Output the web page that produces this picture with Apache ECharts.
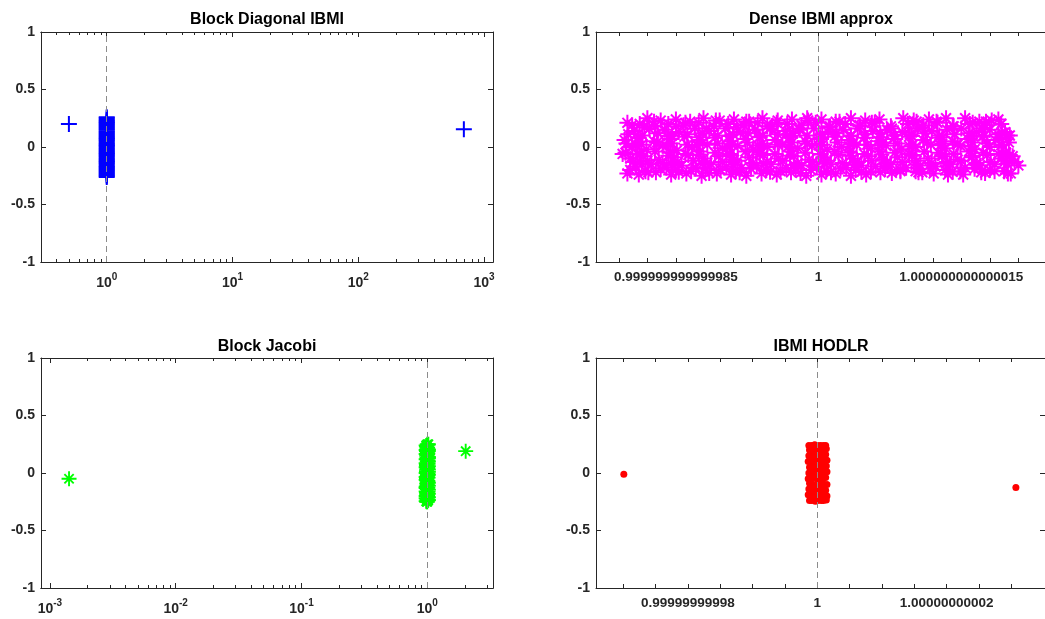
<!DOCTYPE html>
<html>
<head>
<meta charset="UTF-8">
<title>IBMI eigenvalues</title>
<script src="https://cdn.jsdelivr.net/npm/echarts@6/dist/echarts.min.js"></script>
<style>html,body{margin:0;padding:0;background:#fff;}</style>
</head>
<body>
<div id="main" style="width:1045px;height:619px;"></div>
<script>
// ---- data (real part, imaginary part) ----
// Block Diagonal IBMI
var diagCluster = [[1,-0.26],[1,-0.251],[1,-0.242],[1,-0.231],[1,-0.222],[1,-0.211],[1,-0.203],[1,-0.192],[1,-0.181],
  [1,-0.172],[1,-0.162],[1,-0.151],[1,-0.142],[1,-0.131],[1,-0.122],[1,-0.111],[1,-0.102],[1,-0.091],[1,-0.081],
  [1,-0.072],[1,-0.061],[1,-0.052],[1,-0.041],[1,-0.032],[1,-0.021],[1,-0.012],[1,-0.002],[1,0.008],[1,0.018],
  [1,0.029],[1,0.038],[1,0.049],[1,0.058],[1,0.069],[1,0.078],[1,0.089],[1,0.098],[1,0.109],[1,0.118],[1,0.129],
  [1,0.138],[1,0.149],[1,0.158],[1,0.169],[1,0.178],[1,0.189],[1,0.198],[1,0.209],[1,0.218],[1,0.229],[1,0.238],
  [1,0.249],[1,0.258]];
var diagOutliers = [[0.5,0.2],[692,0.155]];
var diagTicks = [1, 10, 100, 1000];
var diagMinor = [0.4,0.5,0.6,0.7,0.8,0.9,2,3,4,5,6,7,8,9,20,30,40,50,60,70,80,90,200,300,400,500,600,700,800,900];

// Dense IBMI approx: real part stored as (re - 1) in units of 1e-15
var denseEig = [
  [-20.1,0.21],[-18.0,0.25],[-16.6,0.23],[-15.0,0.24],[-13.5,0.22],[-12.1,0.25],[-10.4,0.23],[-8.9,0.24],[-7.3,0.22],
  [-5.9,0.25],[-4.3,0.23],[-2.8,0.24],[-1.2,0.25],[0.3,0.24],[1.8,0.22],[3.4,0.25],[4.9,0.23],[6.4,0.24],[8.9,0.25],
  [10.3,0.22],[11.6,0.24],[13.4,0.25],[15.4,0.25],[16.9,0.22],[18.2,0.23],[18.9,0.24],
  [-19.6,0.19],[-18.8,0.2],[-17.2,0.18],[-15.8,0.2],[-14.2,0.19],[-12.6,0.21],[-11.0,0.18],[-9.5,0.2],[-7.9,0.19],
  [-6.4,0.21],[-4.9,0.18],[-3.3,0.2],[-1.8,0.19],[-0.3,0.21],[1.2,0.18],[2.8,0.2],[4.3,0.19],[5.9,0.21],[7.6,0.18],
  [9.4,0.2],[11.0,0.19],[12.5,0.21],[14.2,0.18],[15.9,0.2],[17.5,0.19],[19.2,0.2],
  [-19.4,0.14],[-17.8,0.16],[-16.2,0.15],[-14.7,0.13],[-13.0,0.16],[-11.5,0.14],[-9.8,0.16],[-8.2,0.13],[-6.7,0.15],
  [-5.1,0.16],[-3.5,0.14],[-2.0,0.15],[-0.5,0.16],[1.0,0.13],[2.6,0.15],[4.1,0.16],[5.7,0.14],[7.2,0.15],[8.8,0.13],
  [10.4,0.16],[11.9,0.14],[13.5,0.15],[15.0,0.16],[16.6,0.13],[18.0,0.15],[19.3,0.12],[19.8,0.10],
  [-20.0,0.11],[-18.5,0.1],[-16.9,0.12],[-15.4,0.1],[-13.8,0.11],[-12.2,0.12],[-10.6,0.1],[-9.0,0.11],[-7.4,0.12],
  [-5.9,0.1],[-4.3,0.11],[-2.7,0.12],[-1.2,0.1],[0.4,0.11],[1.9,0.12],[3.4,0.1],[4.9,0.11],[6.5,0.12],[8.0,0.1],
  [9.6,0.11],[11.2,0.12],[12.7,0.1],[14.3,0.11],[15.8,0.12],[17.4,0.1],[18.9,0.11],[19.6,0.13],
  [-20.4,0.06],[-18.9,0.08],[-17.3,0.05],[-15.6,0.07],[-14.1,0.09],[-12.5,0.06],[-10.9,0.08],[-9.3,0.05],[-7.7,0.07],
  [-6.2,0.09],[-4.6,0.06],[-3.0,0.08],[-1.4,0.05],[0.1,0.07],[1.7,0.09],[3.2,0.06],[4.8,0.08],[6.3,0.05],[7.9,0.07],
  [9.5,0.09],[11.0,0.06],[12.6,0.08],[14.1,0.05],[15.7,0.07],[17.2,0.09],[18.6,0.06],[20.1,0.10],
  [-20.2,0.03],[-18.6,0.02],[-17.0,0.04],[-15.4,0.03],[-13.8,0.02],[-12.2,0.04],[-10.6,0.03],[-9.1,0.02],[-7.5,0.04],
  [-5.9,0.03],[-4.3,0.02],[-2.8,0.04],[-1.2,0.03],[0.4,0.02],[2.0,0.04],[3.6,0.03],[5.1,0.02],[6.7,0.04],[8.3,0.03],
  [9.9,0.02],[11.4,0.04],[13.0,0.03],[14.6,0.02],[16.2,0.04],[17.7,0.03],[19.3,0.02],[20.0,0.04],
  [-20.6,-0.06],[-19.6,0.0],[-18.1,-0.02],[-16.4,0.01],[-14.9,-0.03],[-13.3,0.0],[-11.7,0.02],[-10.1,-0.01],[-8.5,0.01],
  [-6.9,-0.02],[-5.4,0.0],[-3.8,0.02],[-2.2,-0.01],[-0.7,0.01],[0.9,-0.02],[2.4,0.0],[4.0,0.02],[5.5,-0.01],[7.1,0.01],
  [8.7,-0.02],[10.2,0.0],[11.8,0.02],[13.3,-0.01],[14.9,0.01],[16.4,-0.02],[18.0,0.0],[19.7,-0.05],
  [-20.3,-0.05],[-18.8,-0.06],[-17.2,-0.04],[-15.6,-0.05],[-14.0,-0.06],[-12.5,-0.04],[-10.9,-0.05],[-9.3,-0.06],
  [-7.7,-0.04],[-6.2,-0.05],[-4.6,-0.06],[-3.0,-0.04],[-1.4,-0.05],[0.2,-0.06],[1.7,-0.04],[3.3,-0.05],[4.8,-0.06],
  [6.4,-0.04],[8.0,-0.05],[9.5,-0.06],[11.1,-0.04],[12.6,-0.05],[14.2,-0.06],[15.8,-0.04],[17.3,-0.05],[18.9,-0.06],[20.4,-0.08],
  [-19.8,-0.10],[-18.4,-0.08],[-16.8,-0.11],[-15.2,-0.09],[-13.7,-0.07],[-12.1,-0.10],[-10.5,-0.08],[-8.9,-0.11],
  [-7.3,-0.09],[-5.8,-0.07],[-4.2,-0.10],[-2.6,-0.08],[-1.0,-0.11],[0.5,-0.09],[2.1,-0.07],[3.6,-0.10],[5.2,-0.08],
  [6.8,-0.11],[8.3,-0.09],[9.9,-0.07],[11.5,-0.10],[13.0,-0.08],[14.6,-0.11],[16.1,-0.09],[17.7,-0.07],[19.2,-0.10],[20.1,-0.07],
  [-19.5,-0.13],[-18.0,-0.12],[-16.4,-0.14],[-14.8,-0.13],[-13.2,-0.12],[-11.7,-0.14],[-10.1,-0.13],[-8.5,-0.12],
  [-6.9,-0.14],[-5.4,-0.13],[-3.8,-0.12],[-2.2,-0.14],[-0.6,-0.13],[0.9,-0.12],[2.5,-0.14],[4.1,-0.13],[5.6,-0.12],
  [7.2,-0.14],[8.8,-0.13],[10.3,-0.12],[11.9,-0.14],[13.5,-0.13],[15.0,-0.12],[16.6,-0.14],[18.1,-0.13],[19.6,-0.12],[20.6,-0.13],
  [-19.2,-0.17],[-17.6,-0.15],[-16.0,-0.18],[-14.4,-0.16],[-12.9,-0.18],[-11.3,-0.15],[-9.7,-0.17],[-8.1,-0.18],[-6.5,-0.16],
  [-5.0,-0.15],[-3.4,-0.18],[-1.8,-0.16],[-0.2,-0.17],[1.3,-0.15],[2.9,-0.18],[4.5,-0.16],[6.0,-0.17],[7.6,-0.15],[9.2,-0.18],
  [10.7,-0.16],[12.3,-0.17],[13.9,-0.15],[15.4,-0.18],[17.0,-0.16],[18.5,-0.15],[21.0,-0.16],
  [-19.8,-0.2],[-18.2,-0.21],[-16.6,-0.19],[-15.0,-0.2],[-13.4,-0.21],[-11.9,-0.19],[-10.3,-0.2],[-8.7,-0.21],[-7.1,-0.19],
  [-5.5,-0.2],[-4.0,-0.21],[-2.4,-0.19],[-0.8,-0.2],[0.8,-0.21],[2.3,-0.19],[3.9,-0.2],[5.5,-0.21],[7.0,-0.19],[8.6,-0.2],
  [10.2,-0.21],[11.7,-0.19],[13.3,-0.2],[14.9,-0.21],[16.4,-0.19],[18.0,-0.2],[19.5,-0.21],
  [-20.1,-0.23],[-18.9,-0.24],[-17.1,-0.22],[-15.5,-0.24],[-13.9,-0.23],[-12.3,-0.25],[-10.7,-0.23],[-9.2,-0.24],[-7.6,-0.25],
  [-6.0,-0.23],[-4.4,-0.24],[-2.9,-0.22],[-1.3,-0.25],[0.3,-0.24],[1.8,-0.23],[3.4,-0.25],[5.0,-0.24],[6.5,-0.22],[8.6,-0.21],
  [10.5,-0.22],[12.1,-0.23],[13.6,-0.24],[15.2,-0.24],[17.1,-0.22],[18.5,-0.21],[19.9,-0.23],[20.2,-0.23],
  [-17.3,0.22],[-14.0,0.21],[-10.8,0.23],[-7.6,0.22],[-4.4,0.21],[-1.1,0.23],[2.2,0.22],[5.6,0.21],[10.0,0.23],[12.4,0.22],
  [16.2,0.21],[17.6,0.22],
  [-18.3,0.17],[-15.0,0.18],[-11.8,0.16],[-8.6,0.17],[-5.4,0.18],[-2.1,0.16],[1.1,0.17],[4.4,0.18],[7.7,0.16],[10.9,0.17],
  [14.1,0.18],[17.2,0.16],
  [-19.0,0.085],[-15.8,0.095],[-12.6,0.085],[-9.4,0.095],[-6.2,0.085],[-3.0,0.095],[0.2,0.085],[3.4,0.095],[6.6,0.085],
  [9.8,0.095],[13.0,0.085],[16.2,0.095],[19.0,0.085],
  [-19.2,0.015],[-16.0,0.005],[-12.8,0.015],[-9.6,0.005],[-6.4,0.015],[-3.2,0.005],[0.0,0.015],[3.2,0.005],[6.4,0.015],
  [9.6,0.005],[12.8,0.015],[16.0,0.005],[19.2,0.015],
  [-19.0,-0.065],[-15.8,-0.075],[-12.6,-0.065],[-9.4,-0.075],[-6.2,-0.065],[-3.0,-0.075],[0.2,-0.065],[3.4,-0.075],
  [6.6,-0.065],[9.8,-0.075],[13.0,-0.065],[16.2,-0.075],[19.4,-0.065],
  [-18.6,-0.145],[-15.4,-0.155],[-12.2,-0.145],[-9.0,-0.155],[-5.8,-0.145],[-2.6,-0.155],[0.6,-0.145],[3.8,-0.155],
  [7.0,-0.145],[10.2,-0.155],[13.4,-0.145],[16.6,-0.155],[19.8,-0.145],
  [-17.9,-0.22],[-14.7,-0.215],[-11.5,-0.225],[-8.3,-0.22],[-5.1,-0.215],[-1.9,-0.225],[1.3,-0.22],[4.5,-0.215],
  [7.7,-0.225],[10.9,-0.22],[14.1,-0.215],[17.5,-0.225]
];
var denseTicks = [-21,-18,-15,-12,-9,-6,-3,0,3,6,9,12,15,18,21];
var denseLabelValues = [-15, 0, 15];
var denseLabels = ['0.999999999999985', '1', '1.000000000000015'];

// Block Jacobi
var jacobiCluster = [[0.99,-0.25],[1.01,-0.24],[0.98,-0.22],[1.02,-0.21],[1.0,-0.19],[0.985,-0.17],[1.015,-0.16],[1.0,-0.14],
  [0.98,-0.12],[1.02,-0.11],[0.99,-0.09],[1.01,-0.07],[0.985,-0.05],[1.015,-0.04],[1.0,-0.02],[0.98,0.0],[1.02,0.01],
  [0.99,0.03],[1.01,0.05],[0.985,0.07],[1.015,0.08],[1.0,0.1],[0.98,0.12],[1.02,0.13],[0.99,0.15],[1.01,0.17],[0.985,0.19],
  [1.015,0.2],[1.0,0.22],[0.98,0.24],[1.02,0.25],[1.0,-0.25],[1.0,0.25],
  [1.02,-0.235],[0.98,-0.2],[1.005,-0.175],[1.02,-0.145],[0.98,-0.13],[1.0,-0.1],[1.02,-0.085],[0.98,-0.06],[1.0,-0.03],
  [1.02,-0.015],[0.985,0.015],[1.0,0.04],[1.02,0.06],[0.98,0.085],[1.01,0.11],[1.02,0.14],[0.98,0.165],[1.0,0.18],
  [1.02,0.205],[0.985,0.23],[1.01,0.245],[0.98,-0.245],[0.98,-0.16],[0.98,-0.035],[0.98,0.05],[0.98,0.2],[1.02,-0.18],
  [1.02,0.03],[1.02,0.1],[1.02,0.19],
  [0.995,-0.23],[1.005,-0.2],[0.995,-0.17],[1.005,-0.14],[0.995,-0.11],[1.005,-0.08],[0.995,-0.05],[1.005,-0.02],
  [0.995,0.01],[1.005,0.04],[0.995,0.07],[1.005,0.1],[0.995,0.13],[1.005,0.16],[0.995,0.19],[1.005,0.22],
  [1.01,-0.215],[0.99,-0.185],[1.01,-0.125],[0.99,-0.065],[1.01,-0.005],[0.99,0.055],[1.01,0.125],[0.99,0.205]];
var jacobiOutliers = [[0.00142,-0.05],[2.02,0.19]];
var jacobiTicks = [0.001, 0.01, 0.1, 1];
var jacobiMinor = [0.002,0.003,0.004,0.005,0.006,0.007,0.008,0.009,0.02,0.03,0.04,0.05,0.06,0.07,0.08,0.09,
  0.2,0.3,0.4,0.5,0.6,0.7,0.8,0.9,2,3];

// IBMI HODLR: real part stored as (re - 1) in units of 1e-11
var hodlrCluster = [[-0.12,-0.24],[-0.03,-0.245],[0.06,-0.24],[0.14,-0.235],[-0.14,-0.19],[-0.04,-0.2],[0.05,-0.19],[0.15,-0.2],
  [-0.13,-0.14],[-0.05,-0.15],[0.04,-0.14],[0.13,-0.15],[-0.12,-0.09],[-0.03,-0.1],[0.06,-0.09],[0.15,-0.1],
  [-0.14,-0.05],[-0.04,-0.04],[0.05,-0.05],[0.13,-0.04],[-0.13,0.0],[-0.05,0.01],[0.04,0.0],[0.15,0.01],
  [-0.12,0.05],[-0.03,0.06],[0.06,0.05],[0.14,0.06],[-0.14,0.1],[-0.04,0.11],[0.05,0.1],[0.15,0.11],
  [-0.13,0.15],[-0.05,0.16],[0.04,0.15],[0.13,0.16],[-0.12,0.2],[-0.03,0.21],[0.06,0.2],[0.14,0.21],
  [-0.13,0.24],[-0.04,0.245],[0.05,0.24],[0.13,0.24],
  [-0.085,-0.24],[0.005,-0.24],[0.095,-0.24],[-0.085,-0.19],[0.005,-0.19],[0.095,-0.19],[-0.085,-0.145],[0.005,-0.145],
  [0.095,-0.145],[-0.085,-0.095],[0.005,-0.095],[0.095,-0.095],[-0.085,-0.045],[0.005,-0.045],[0.095,-0.045],
  [-0.085,0.005],[0.005,0.005],[0.095,0.005],[-0.085,0.055],[0.005,0.055],[0.095,0.055],[-0.085,0.105],[0.005,0.105],
  [0.095,0.105],[-0.085,0.155],[0.005,0.155],[0.095,0.155],[-0.085,0.205],[0.005,0.205],[0.095,0.205],[-0.085,0.24],
  [0.005,0.24],[0.095,0.24]];
var hodlrOutliers = [[-2.99,-0.01],[3.07,-0.125]];
var hodlrTicks = [-3,-2.5,-2,-1.5,-1,-0.5,0,0.5,1,1.5,2,2.5,3];
var hodlrLabelValues = [-2, 0, 2];
var hodlrLabels = ['0.99999999998', '1', '1.00000000002'];

var yTicks = [-1, -0.5, 0, 0.5, 1];

// ---- styling ----
var font = 'Liberation Sans, Arial, Helvetica, sans-serif';
var ink = '#262626';
var plusPath = 'path://M7,0H9V16H7Z M0,7H16V9H0Z';
var starPath = 'path://M7,0H9V16H7Z M0,7H16V9H0Z M3.76,2.34L13.66,12.24L12.24,13.66L2.34,3.76Z M2.34,12.24L12.24,2.34L13.66,3.76L3.76,13.66Z';

var grids = [
  {left: 41, top: 32, width: 452, height: 230},
  {left: 596, top: 32, width: 451, height: 230},
  {left: 41, top: 358, width: 452, height: 230},
  {left: 596, top: 358, width: 451, height: 230}
];

function tickAxis(g, pos, type, min, max, ticks, len) {
  return {
    type: type, gridIndex: g, position: pos, min: min, max: max,
    axisLine: {show: true, onZero: false, lineStyle: {color: ink, width: 1}},
    axisTick: {show: true, inside: true, length: len, customValues: ticks, lineStyle: {color: ink, width: 1}},
    axisLabel: {show: false},
    splitLine: {show: false}
  };
}

var xAxes = [], yAxes = [];
function logLabel(v) {
  var e = Math.round(Math.log(v) / Math.LN10);
  return '{b|10}{s|' + e + '}';
}
var richSup = {
  b: {fontSize: 14, fontWeight: 'bold', fontFamily: font, color: ink, lineHeight: 14, verticalAlign: 'bottom'},
  s: {fontSize: 10, fontWeight: 'bold', fontFamily: font, color: ink, lineHeight: 18, verticalAlign: 'top'}
};

function addLogX(g, min, max, major, minor) {
  var a = tickAxis(g, 'bottom', 'log', min, max, major, 5);
  a.axisLabel = {show: true, customValues: major, margin: 10, formatter: logLabel, rich: richSup};
  xAxes.push(a);
  var idx = xAxes.length - 1;
  xAxes.push(tickAxis(g, 'bottom', 'log', min, max, minor, 3));
  xAxes.push(tickAxis(g, 'top', 'log', min, max, major, 5));
  xAxes.push(tickAxis(g, 'top', 'log', min, max, minor, 3));
  return idx;
}
function addLinX(g, min, max, ticks, labelValues, labels) {
  var a = tickAxis(g, 'bottom', 'value', min, max, ticks, 4);
  a.axisLabel = {
    show: true, customValues: labelValues, margin: 8,
    fontSize: 13.5, fontWeight: 'bold', fontFamily: font, color: ink,
    formatter: function (v) {
      var i = labelValues.indexOf(v);
      return i < 0 ? '' : labels[i];
    }
  };
  xAxes.push(a);
  var idx = xAxes.length - 1;
  xAxes.push(tickAxis(g, 'top', 'value', min, max, ticks, 4));
  return idx;
}
function addY(g) {
  var a = tickAxis(g, 'left', 'value', -1, 1, yTicks, 5);
  a.interval = 0.5;
  a.axisLabel = {show: true, customValues: yTicks, margin: 6, fontSize: 14, fontWeight: 'bold', fontFamily: font, color: ink};
  yAxes.push(a);
  var idx = yAxes.length - 1;
  var r = tickAxis(g, 'right', 'value', -1, 1, yTicks, 5);
  r.interval = 0.5;
  yAxes.push(r);
  return idx;
}

var x0 = addLogX(0, 0.3, 1180, diagTicks, diagMinor), y0 = addY(0);
var x1 = addLinX(1, -23.4, 23.8, denseTicks, denseLabelValues, denseLabels), y1 = addY(1);
var x2 = addLogX(2, 0.00085, 3.33, jacobiTicks, jacobiMinor), y2 = addY(2);
var x3 = addLinX(3, -3.42, 3.52, hodlrTicks, hodlrLabelValues, hodlrLabels), y3 = addY(3);

function refLine(x) {
  return {
    silent: true, symbol: ['none', 'none'], label: {show: false}, animation: false,
    lineStyle: {color: '#8c8c8c', width: 1, type: [6, 4]},
    data: [{xAxis: x}]
  };
}
function scatter(xi, yi, data, sym, size, color, mark) {
  var s = {
    type: 'scatter', xAxisIndex: xi, yAxisIndex: yi, data: data,
    symbol: sym, symbolSize: size, itemStyle: {color: color, opacity: 1},
    silent: true, animation: false
  };
  if (mark !== undefined) s.markLine = refLine(mark);
  return s;
}

var titleStyle = {fontSize: 16, fontWeight: 'bold', fontFamily: font, color: '#000'};
var option = {
  backgroundColor: '#fff',
  animation: false,
  title: [
    {text: 'Block Diagonal IBMI', left: 267, top: 12, textAlign: 'center', padding: 0, textStyle: titleStyle},
    {text: 'Dense IBMI approx', left: 821, top: 12, textAlign: 'center', padding: 0, textStyle: titleStyle},
    {text: 'Block Jacobi', left: 267, top: 339, textAlign: 'center', padding: 0, textStyle: titleStyle},
    {text: 'IBMI HODLR', left: 821, top: 339, textAlign: 'center', padding: 0, textStyle: titleStyle}
  ],
  grid: grids,
  xAxis: xAxes,
  yAxis: yAxes,
  series: [
    scatter(x0, y0, diagCluster, plusPath, 16, '#0000ff', 1),
    scatter(x0, y0, diagOutliers, plusPath, 16, '#0000ff'),
    scatter(x1, y1, denseEig, starPath, 16, '#ff00ff', 0),
    scatter(x2, y2, jacobiCluster, starPath, 15, '#00ff00', 1),
    scatter(x2, y2, jacobiOutliers, starPath, 15, '#00ff00'),
    scatter(x3, y3, hodlrCluster, 'circle', 7, '#ff0000', 0),
    scatter(x3, y3, hodlrOutliers, 'circle', 7, '#ff0000')
  ]
};

var chart = echarts.init(document.getElementById('main'), null, {renderer: 'canvas'});
chart.setOption(option);
</script>
</body>
</html>
